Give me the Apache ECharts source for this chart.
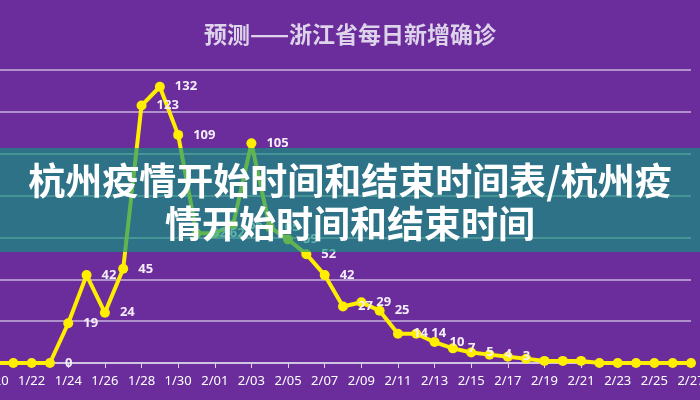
<!DOCTYPE html>
<html><head><meta charset="utf-8">
<script src="https://cdn.jsdelivr.net/npm/echarts@6/dist/echarts.min.js"></script>
<style>html,body{margin:0;padding:0;background:#6b2d9b}#c{width:700px;height:400px}</style>
</head><body><div id="c"></div>
<script>
const dates = ['1/20','1/21','1/22','1/23','1/24','1/25','1/26','1/27','1/28','1/29','1/30','1/31','2/01','2/02','2/03','2/04','2/05','2/06','2/07','2/08','2/09','2/10','2/11','2/12','2/13','2/14','2/15','2/16','2/17','2/18','2/19','2/20','2/21','2/22','2/23','2/24','2/25','2/26','2/27'];
const cases = [0,0,0,0,19,42,24,45,123,132,109,62,62,66,105,65,59,52,42,27,29,25,14,14,10,7,5,4,3,2,1,1,1,0,0,0,0,0,0];
const chart = echarts.init(document.getElementById('c'));
chart.setOption({
  backgroundColor: '#6b2d9b',
  title: { text: '预测——浙江省每日新增确诊', left: 'center', top: 18,
    textStyle: { color: '#ddd3ea', fontSize: 23, fontWeight: 'bold', fontFamily: 'Noto Sans CJK SC' } },
  grid: { left: -5, right: 9, top: 70, bottom: 37, outerBoundsMode: 'none', containLabel: false },
  xAxis: { type: 'category', data: dates, boundaryGap: false,
    axisLine: { lineStyle: { color: '#ddd3ea', width: 1.5 } },
    axisTick: { lineStyle: { color: '#ddd3ea' }, interval: 1 },
    axisLabel: { color: '#ffffff', fontSize: 13, interval: 1, margin: 12, fontFamily: 'Noto Sans', showMinLabel: true, showMaxLabel: true } },
  yAxis: { type: 'value', min: 0, max: 140, interval: 20, axisLabel: { show: false },
    splitLine: { lineStyle: { color: '#c7b3dc', width: 1.5 } } },
  series: [{ type: 'line', data: cases, symbol: 'circle', symbolSize: 10,
    itemStyle: { color: '#ffee00' }, lineStyle: { color: '#ffee00', width: 4 },
    label: { show: true, position: 'right', distance: 10, color: '#f4eefa', fontWeight: 'bold', fontSize: 13, fontFamily: 'Noto Sans',
      formatter: p => (p.dataIndex >= 3 && p.dataIndex <= 28) ? p.value : '' } }],
  graphic: [
    { type: 'rect', left: 0, top: 148, shape: { width: 700, height: 104 }, style: { fill: 'rgba(15,150,125,0.66)' }, z: 100 },
    { type: 'text', left: 'center', top: 159, z: 101, style: { text: '杭州疫情开始时间和结束时间表/杭州疫\n情开始时间和结束时间', fill: '#ffffff', font: 'bold 37px "Noto Sans CJK SC"', textAlign: 'center', lineHeight: 43 } }
  ]
});
</script></body></html>
